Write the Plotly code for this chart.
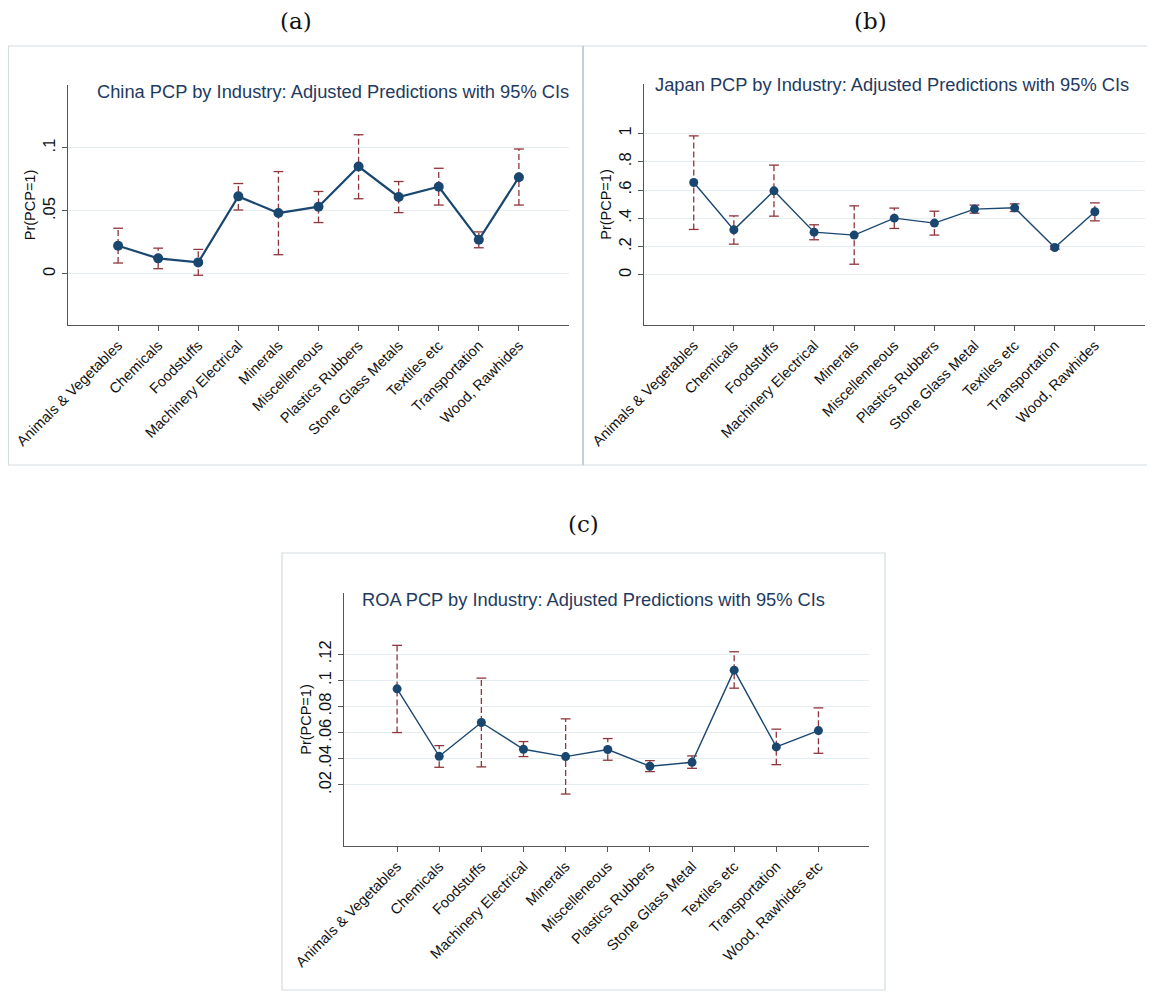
import plotly.graph_objects as go

# ---------------- data ----------------
cats_a = ["Animals & Vegetables", "Chemicals", "Foodstuffs", "Machinery Electrical", "Minerals",
          "Miscelleneous", "Plastics Rubbers", "Stone Glass Metals", "Textiles etc",
          "Transportation", "Wood, Rawhides"]
china_est = [0.0224, 0.0124, 0.0092, 0.0616, 0.0484, 0.0534, 0.0853, 0.0611, 0.0692, 0.0271, 0.0768]
china_hi = [0.0363, 0.0205, 0.0195, 0.0718, 0.0813, 0.0655, 0.1105, 0.0734, 0.0839, 0.0334, 0.0992]
china_lo = [0.0087, 0.0042, -0.0010, 0.0508, 0.0153, 0.0408, 0.0597, 0.0487, 0.0547, 0.0208, 0.0547]

cats_b = ["Animals & Vegetables", "Chemicals", "Foodstuffs", "Machinery Electrical", "Minerals",
          "Miscellenneous", "Plastics Rubbers", "Stone Glass Metal", "Textiles etc",
          "Transportation", "Wood, Rawhides"]
japan_est = [0.653, 0.318, 0.594, 0.302, 0.281, 0.401, 0.366, 0.465, 0.474, 0.193, 0.446]
japan_hi = [0.983, 0.417, 0.776, 0.354, 0.488, 0.472, 0.450, 0.493, 0.502, 0.205, 0.509]
japan_lo = [0.321, 0.217, 0.415, 0.248, 0.075, 0.328, 0.281, 0.436, 0.448, 0.182, 0.382]

cats_c = ["Animals & Vegetables", "Chemicals", "Foodstuffs", "Machinery Electrical", "Minerals",
          "Miscelleneous", "Plastics Rubbers", "Stone Glass Metal", "Textiles etc",
          "Transportation", "Wood, Rawhides etc"]
roa_est = [0.0936, 0.0419, 0.0678, 0.0473, 0.0417, 0.0471, 0.0343, 0.0373, 0.1079, 0.0491, 0.0616]
roa_hi = [0.1269, 0.0501, 0.1018, 0.0532, 0.0706, 0.0555, 0.0386, 0.0422, 0.1220, 0.0627, 0.0790]
roa_lo = [0.0601, 0.0335, 0.0338, 0.0417, 0.0130, 0.0389, 0.0302, 0.0327, 0.0941, 0.0355, 0.0442]

ytick_a = [0, 0.05, 0.1]
ytext_a = ["0", ".05", ".1"]
ytick_b = [0, 0.2, 0.4, 0.6, 0.8, 1]
ytext_b = ["0", ".2", ".4", ".6", ".8", "1"]
ytick_c = [0.02, 0.04, 0.06, 0.08, 0.1, 0.12]
ytext_c = [".02", ".04", ".06", ".08", ".1", ".12"]

titles = ["China PCP by Industry: Adjusted Predictions with 95% CIs",
          "Japan PCP by Industry: Adjusted Predictions with 95% CIs",
          "ROA PCP by Industry: Adjusted Predictions with 95% CIs"]
panel_labels = ["(a)", "(b)", "(c)"]

# ---------------- style ----------------
OFF = 8                      # default page body margin
W, H = 1155 - OFF, 992 - OFF
NAVY = "#1a476f"
MAROON = "#90353b"
GRID = "#e6edf1"
AXIS = "#555555"
TITLE_C = "#1f3a60"
FONT = "Liberation Sans, Arial, sans-serif"

def px(x):
    return (x - OFF) / W

def py(y):
    return 1 - (y - OFF) / H

fig = go.Figure()

panels = [
    dict(cats=cats_a, est=china_est, hi=china_hi, lo=china_lo, yt=ytick_a, ytt=ytext_a,
         x0=68, x1=569, y0=85, y1=325, yr=[-0.0405, 0.15], xr=[-1.25, 11.25], lw=2.2, ms=10,
         title_xy=(95, 91)),
    dict(cats=cats_b, est=japan_est, hi=japan_hi, lo=japan_lo, yt=ytick_b, ytt=ytext_b,
         x0=644, x1=1145, y0=84, y1=325, yr=[-0.355, 1.35], xr=[-1.24, 11.25], lw=1.4, ms=9,
         title_xy=(653, 84)),
    dict(cats=cats_c, est=roa_est, hi=roa_hi, lo=roa_lo, yt=ytick_c, ytt=ytext_c,
         x0=344, x1=869, y0=593, y1=846, yr=[-0.0268, 0.167], xr=[-1.26, 11.2], lw=1.4, ms=9,
         title_xy=(360, 599)),
]

layout_axes = {}
annotations = []
for k, p in enumerate(panels):
    n = k + 1
    xa = "x" if n == 1 else f"x{n}"
    ya = "y" if n == 1 else f"y{n}"
    idx = list(range(len(p["cats"])))
    # dashed CI spikes
    xs, ys = [], []
    for i, lo, hi in zip(idx, p["lo"], p["hi"]):
        xs += [i, i, None]
        ys += [lo, hi, None]
    fig.add_trace(go.Scatter(x=xs, y=ys, mode="lines", xaxis=xa, yaxis=ya,
                             line=dict(color=MAROON, width=1.3, dash="6px,3px"),
                             hoverinfo="skip", showlegend=False))
    # caps
    fig.add_trace(go.Scatter(x=idx + idx, y=p["lo"] + p["hi"], mode="markers", xaxis=xa, yaxis=ya,
                             marker=dict(symbol="line-ew", size=7,
                                         line=dict(color=MAROON, width=1.3)),
                             hoverinfo="skip", showlegend=False))
    # estimates
    fig.add_trace(go.Scatter(x=idx, y=p["est"], mode="lines+markers", xaxis=xa, yaxis=ya,
                             line=dict(color=NAVY, width=p["lw"]),
                             marker=dict(color=NAVY, size=p["ms"]),
                             showlegend=False))
    xkey = "xaxis" if n == 1 else f"xaxis{n}"
    ykey = "yaxis" if n == 1 else f"yaxis{n}"
    layout_axes[xkey] = dict(
        domain=[px(p["x0"]), px(p["x1"])], anchor=ya, range=p["xr"], automargin=False,
        tickmode="array", tickvals=idx, ticktext=p["cats"], tickangle=-45,
        ticks="outside", ticklen=5, tickcolor=AXIS, showline=True, linecolor=AXIS, linewidth=1.3,
        showgrid=False, zeroline=False, tickfont=dict(family=FONT, size=14.6, color="#111111"))
    layout_axes[ykey] = dict(
        domain=[py(p["y1"]), py(p["y0"])], anchor=xa, range=p["yr"], automargin=False,
        tickmode="array", tickvals=p["yt"], ticktext=p["ytt"], tickangle=-90,
        ticks="outside", ticklen=5, tickcolor=AXIS, showline=True, linecolor=AXIS, linewidth=1.3,
        showgrid=True, gridcolor=GRID, gridwidth=1.2, zeroline=False,
        tickfont=dict(family=FONT, size=16.5, color="#111111"),
        title=dict(text="Pr(PCP=1)", font=dict(family=FONT, size=14.5, color="#111111"), standoff=1))
    annotations.append(dict(text=titles[k], x=px(p["title_xy"][0]), y=py(p["title_xy"][1]),
                            xref="paper", yref="paper", xanchor="left", yanchor="middle",
                            showarrow=False, font=dict(family=FONT, size=18.3, color=TITLE_C)))

for lab, (x, y) in zip(panel_labels, [(296, 21), (871, 21), (583, 524)]):
    annotations.append(dict(text=lab, x=px(x), y=py(y), xref="paper", yref="paper",
                            xanchor="center", yanchor="middle", showarrow=False,
                            font=dict(family="DejaVu Serif, Liberation Serif, serif", size=23,
                                      color="#111111")))

FRAME = "#d5dde1"
shapes = [
    dict(type="rect", xref="paper", yref="paper", x0=px(8.5), x1=px(583), y0=py(465), y1=py(46),
         line=dict(color=FRAME, width=1.2), layer="below"),
    dict(type="rect", xref="paper", yref="paper", x0=px(583), x1=px(1154), y0=py(465), y1=py(46),
         line=dict(color=FRAME, width=1.2), layer="below"),
    dict(type="line", xref="paper", yref="paper", x0=px(583), x1=px(583), y0=py(465), y1=py(46),
         line=dict(color="#b9c6cc", width=1.3), layer="below"),
    dict(type="rect", xref="paper", yref="paper", x0=px(282), x1=px(885), y0=py(990), y1=py(553),
         line=dict(color=FRAME, width=1.2), layer="below"),
]

fig.update_layout(width=W, height=H, margin=dict(l=0, r=0, t=0, b=0, autoexpand=False),
                  paper_bgcolor="white", plot_bgcolor="white",
                  annotations=annotations, shapes=shapes, **layout_axes)

fig.write_html("out.html")
